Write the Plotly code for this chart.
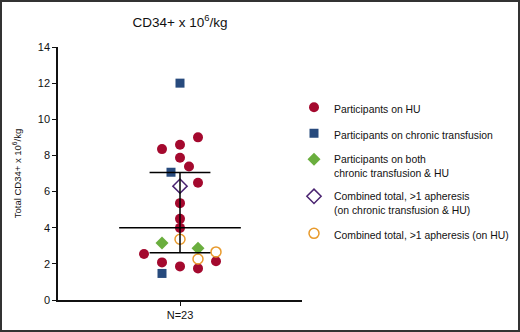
import plotly.graph_objects as go

# ---- data ----
hu_values = [9.0, 8.59, 8.35, 7.87, 7.39, 6.49, 5.36, 4.49, 3.99, 2.55, 2.14, 2.08, 1.86, 1.75]
hu_jitter = [1, 0, -1, 0, 0.5, 1, 0, 0, 0, -2, 2, -1, 0, 1]

transf_values = [12.0, 7.07, 1.47]
transf_jitter = [0, -0.5, -1]

both_values = [3.16, 2.86]
both_jitter = [-1, 1]

combo_both_values = [6.3]
combo_both_jitter = [0]

combo_hu_values = [3.36, 2.66, 2.27]
combo_hu_jitter = [0, 2, 1]

median_value = 4.0
q1_value = 2.62
q3_value = 7.06

category_label = "N=23"
y_ticks = [0, 2, 4, 6, 8, 10, 12, 14]

# ---- styling ----
FONT = "Liberation Sans, Arial, Helvetica, sans-serif"
RED = "#A4092E"
BLUE = "#274A7D"
GREEN = "#6AAE3E"
PURPLE = "#4A2370"
ORANGE = "#E89A2C"

W, H = 520, 332
L, R, T, B = 58, 218, 47, 32
pw, ph = W - L - R, H - T - B
xr = pw / 18.0 / 2

fig = go.Figure()

fig.add_trace(go.Scatter(x=hu_jitter, y=hu_values, mode="markers", name="Participants on HU",
                         marker=dict(symbol="circle", size=10, color=RED), legendgroup="a"))
fig.add_trace(go.Scatter(x=transf_jitter, y=transf_values, mode="markers",
                         name="Participants on chronic transfusion",
                         marker=dict(symbol="square", size=9, color=BLUE), legendgroup="b"))
fig.add_trace(go.Scatter(x=both_jitter, y=both_values, mode="markers",
                         name="Participants on both<br>chronic transfusion &amp; HU",
                         marker=dict(symbol="diamond", size=10, color=GREEN), legendgroup="c"))
fig.add_trace(go.Scatter(x=combo_both_jitter, y=combo_both_values, mode="markers",
                         name="Combined total, &gt;1 apheresis<br>(on chronic transfusion &amp; HU)",
                         marker=dict(symbol="diamond-open", size=11, color=PURPLE, line=dict(width=1.5)),
                         legendgroup="d"))
fig.add_trace(go.Scatter(x=combo_hu_jitter, y=combo_hu_values, mode="markers",
                         name="Combined total, &gt;1 apheresis (on HU)",
                         marker=dict(symbol="circle-open", size=10, color=ORANGE, line=dict(width=1.5)),
                         legendgroup="e"))

# median and IQR lines
line_style = dict(color="black", width=1.5)
fig.add_trace(go.Scatter(x=[-3.38, 3.38], y=[median_value, median_value], mode="lines",
                         line=line_style, showlegend=False, hoverinfo="skip"))
fig.add_trace(go.Scatter(x=[-1.69, 1.69], y=[q3_value, q3_value], mode="lines",
                         line=line_style, showlegend=False, hoverinfo="skip"))
fig.add_trace(go.Scatter(x=[-1.69, 1.69], y=[q1_value, q1_value], mode="lines",
                         line=line_style, showlegend=False, hoverinfo="skip"))
fig.add_trace(go.Scatter(x=[0, 0], y=[q1_value, q3_value], mode="lines",
                         line=line_style, showlegend=False, hoverinfo="skip"))

# frame around the whole figure
fig.add_shape(type="rect", xref="paper", yref="paper",
              x0=(1 - L) / pw, x1=(W - 1 - L) / pw,
              y0=-(B - 1) / ph, y1=1 + (T - 1) / ph,
              line=dict(color="#333333", width=2), fillcolor="rgba(0,0,0,0)", layer="below")

fig.update_layout(
    width=W, height=H, autosize=False,
    margin=dict(l=L, r=R, t=T, b=B, pad=0, autoexpand=False),
    paper_bgcolor="white", plot_bgcolor="white",
    font=dict(family=FONT, size=11, color="#111111"),
    title=dict(text="CD34+ x 10<sup>6</sup>/kg", x=(180 - 0) / W, xanchor="center",
               y=1 - 22 / H, yanchor="middle", font=dict(size=13.5, family=FONT, color="#111111")),
    xaxis=dict(range=[-xr, xr], showgrid=False, zeroline=False, showline=True,
               linecolor="#111111", linewidth=1.5, ticks="outside", ticklen=4, tickwidth=1,
               tickcolor="#111111", tickvals=[0], ticktext=[category_label],
               tickfont=dict(size=11)),
    yaxis=dict(range=[0, 14], showgrid=False, zeroline=False, showline=True,
               linecolor="#111111", linewidth=1.5, ticks="outside", ticklen=4, tickwidth=1,
               tickcolor="#111111", tickvals=y_ticks, tickfont=dict(size=11),
               title=dict(text="Total CD34+ x 10<sup>6</sup>/kg", standoff=14,
                          font=dict(size=9.5, family=FONT))),
    legend=dict(xref="container", yref="container",
                x=294 / W, xanchor="left", y=1 - 94 / H, yanchor="top",
                font=dict(size=10.4, family=FONT), bgcolor="rgba(0,0,0,0)",
                traceorder="grouped", tracegroupgap=7, valign="top", itemwidth=30),
    showlegend=True,
)

fig.write_html("out.html", config={"displayModeBar": False},
               post_script="document.body.style.margin='0';")
